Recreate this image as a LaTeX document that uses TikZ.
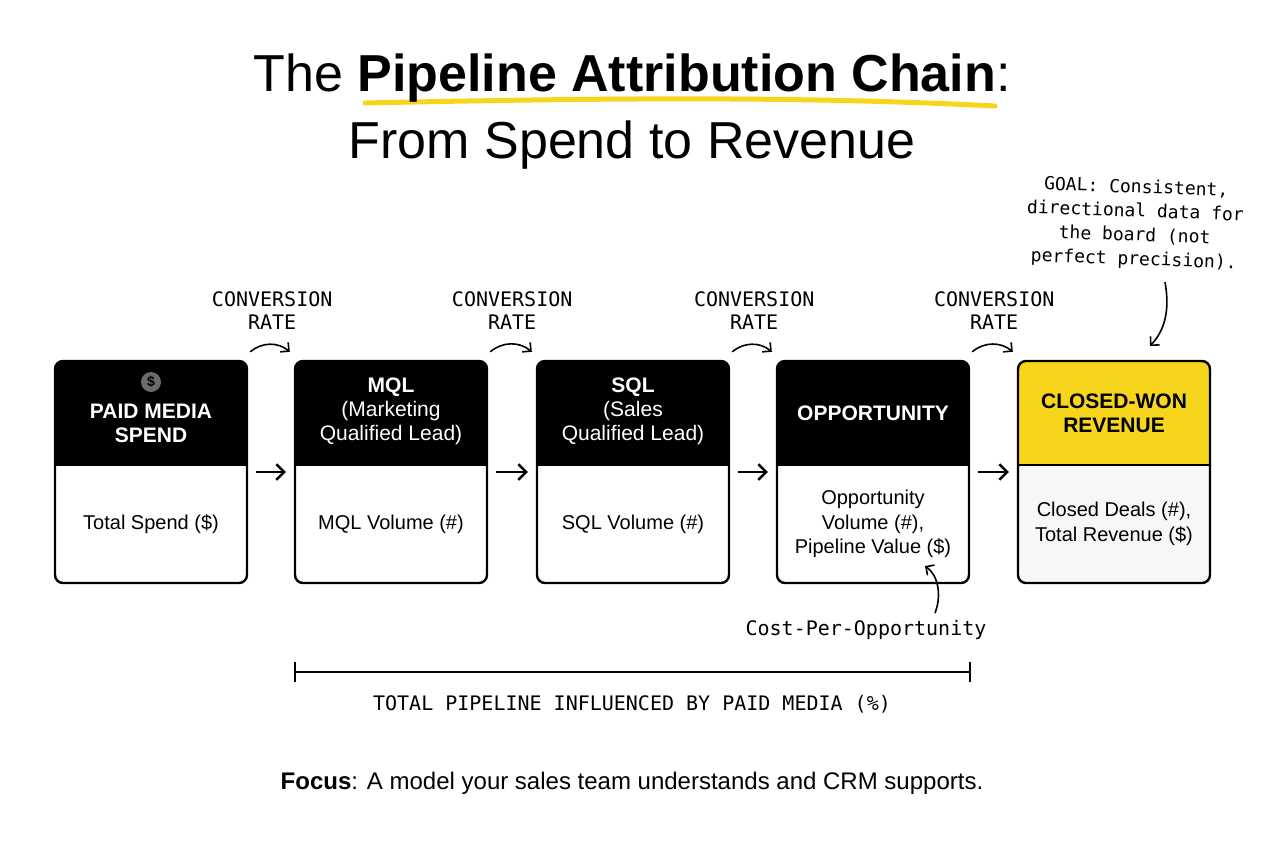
\documentclass[tikz,border=0pt]{standalone}
\usepackage{fontspec}
\setmainfont{Liberation Sans}
\newfontfamily\handfont{DejaVu Sans Mono}
\usetikzlibrary{positioning,arrows.meta}
\definecolor{goldyellow}{HTML}{F7D51D}
\definecolor{icongray}{HTML}{6B6B6B}
\begin{document}
\begin{tikzpicture}[x=0.5pt,y=-0.5pt, >=Straight Barb, line width=1.1pt,
    stage/.style={draw, rounded corners=4pt, minimum width=96pt, minimum height=111pt, line width=1.2pt},
    head/.style={text=white, font=\fontsize{10.5}{12}\selectfont\bfseries, align=center},
    body/.style={font=\fontsize{10}{12.3}\selectfont, align=center},
    hand/.style={font=\handfont\fontsize{10}{12}\selectfont, align=center},
    flow/.style={->, line width=1.2pt},
    notearrow/.style={->, line width=0.8pt}
    ]
\useasboundingbox (0,0) rectangle (1264,848);
% title
\draw[goldyellow, line width=2.5pt, line cap=round] (365,103) .. controls (600,98) and (800,96) .. (995,106);
\node (title1) at (632,78) {\fontsize{26}{30}\selectfont The \textbf{Pipeline Attribution Chain}:};
\node (title2) at (632,145) {\fontsize{26}{30}\selectfont From Spend to Revenue};
% stages
\foreach \n/\x/\bd [count=\i] in {
  paid/151/{Total Spend (\$)},
  mql/391/{MQL Volume (\#)},
  sql/633/{SQL Volume (\#)},
  opp/873/{Opportunity\\Volume (\#),\\Pipeline Value (\$)},
  won/1114/{Closed Deals (\#),\\Total Revenue (\$)}}{
  \ifnum\i=5
    \fill[goldyellow, rounded corners=4pt] (\x-96,361) rectangle (\x+96,465);
    \fill[goldyellow] (\x-96,440) rectangle (\x+96,465);
    \fill[black!3, rounded corners=4pt] (\x-96,465) rectangle (\x+96,583);
    \fill[black!3] (\x-96,465) rectangle (\x+96,490);
  \else
    \fill[black, rounded corners=4pt] (\x-96,361) rectangle (\x+96,465);
    \fill[black] (\x-96,440) rectangle (\x+96,465);
  \fi
  \node[stage] (\n) at (\x,472) {};
  \draw[line width=1.2pt] (\x-96,465) -- (\x+96,465);
  \node[body] (\n-b) at (\x,524) {\bd};
}
\node[head] (paid-h) at (151,423) {PAID MEDIA\\SPEND};
\node[head] (mql-h) at (391,411) {MQL\\\mdseries(Marketing\\\mdseries Qualified Lead)};
\node[head] (sql-h) at (633,411) {SQL\\\mdseries(Sales\\\mdseries Qualified Lead)};
\node[head] (opp-h) at (873,413) {OPPORTUNITY};
\node[head, text=black] (won-h) at (1114,413) {CLOSED-WON\\REVENUE};
\node[circle, fill=icongray, inner sep=0pt, minimum size=10pt, text=black,
      font=\fontsize{7}{8}\selectfont\bfseries] (dollar) at (151,382) {\$};
% connectors and conversion rates
\foreach \a/\b in {paid/mql, mql/sql, sql/opp, opp/won}{
  \draw[flow] ([xshift=4pt]\a.east) -- ([xshift=-4pt]\b.west);
  \node[hand, font=\handfont\fontsize{10}{11.5}\selectfont, above=38pt of \a.north east, anchor=north, xshift=12pt] (\a-c) {CONVERSION\\RATE};
  \draw[notearrow] ([xshift=1pt,yshift=4pt]\a.north east) to[bend left=40] ([xshift=-2pt,yshift=4pt]\b.north west);
}
% cost per opportunity
\node[hand] (cpo) at (866,630) {Cost-Per-Opportunity};
\draw[notearrow] (935,613) .. controls (942,595) and (938,575) .. (925,566);
% goal note
\node[hand, font=\handfont\fontsize{9}{12}\selectfont, rotate=-2] (goal) at (1135,224) {GOAL: Consistent,\\directional data for\\the board (not\\perfect precision).};
\draw[notearrow] (1165,282) .. controls (1170,310) and (1165,330) .. (1150,346);
% bracket
\coordinate (brl) at (295,672);
\coordinate (brr) at (970,672);
\draw[line width=0.9pt] (brl) -- (brr);
\draw[line width=0.9pt] ([yshift=5pt]brl) -- ([yshift=-5pt]brl);
\draw[line width=0.9pt] ([yshift=5pt]brr) -- ([yshift=-5pt]brr);
\node[hand] (total) at (632,704) {TOTAL PIPELINE INFLUENCED BY PAID MEDIA (\%)};
% focus
\node[font=\fontsize{12}{14}\selectfont] (focus) at (632,783) {\textbf{Focus}: A model your sales team understands and CRM supports.};
\end{tikzpicture}
\end{document}
